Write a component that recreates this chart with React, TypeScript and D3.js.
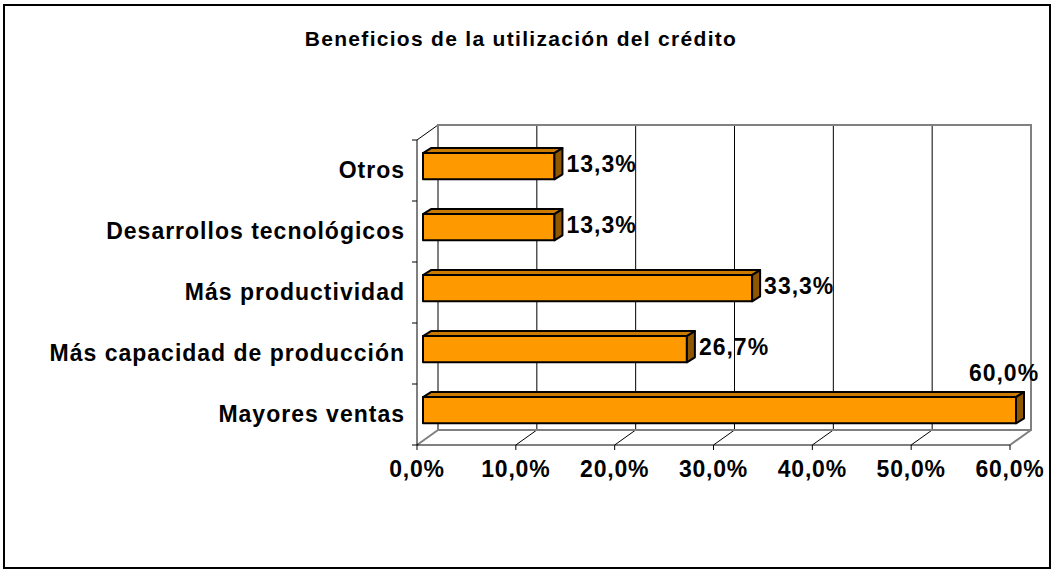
import * as d3 from "d3";

// data, top to bottom as drawn
const categories = ["Otros", "Desarrollos tecnológicos", "Más productividad", "Más capacidad de producción", "Mayores ventas"];
const values = [0.133, 0.133, 0.333, 0.267, 0.6];
const xTicks = [0, 0.1, 0.2, 0.3, 0.4, 0.5, 0.6];
const title = "Beneficios de la utilización del crédito";

const W = 1052;
const H = 570;
// 3d depth offset of the back wall
const depthX = 21;
const depthY = -15;
// bar position / thickness inside the depth
const barX = 6;
const barY = -4.3;
const barDX = 8;
const barDY = -5;

const fmt = (v: number) => (v * 100).toFixed(1).replace(".", ",") + "%";
const font = "'Liberation Sans', Arial, sans-serif";

function App() {
    const x = d3.scaleLinear().domain([0, 0.6]).range([417, 1010]);
    const y = d3.scaleBand<string>()
        .domain(categories)
        .range([140, 445])
        .paddingInner(0.57)
        .paddingOuter(0.285);

    const x0 = x(0);
    const yTop = y.range()[0];
    const yBot = y.range()[1];
    const step = y.step();
    const bandEdges = d3.range(categories.length + 1).map(i => yTop + i * step);

    return (
        <svg width={W} height={H} style={{ position: "absolute", left: 0, top: 0, background: "white" }} fontFamily={font}>
            <rect x={4} y={5} width={1046} height={563} fill="white" stroke="black" strokeWidth={2} />

            <text x={521} y={46} textAnchor="middle" fontSize={21} fontWeight="bold" letterSpacing={1.3}>
                {title}
            </text>

            {/* back wall gridlines */}
            <g stroke="black" strokeWidth={1}>
                {xTicks.slice(1, -1).map(t => (
                    <line key={t} x1={x(t) + depthX} x2={x(t) + depthX} y1={yTop + depthY} y2={yBot + depthY} />
                ))}
                {/* floor diagonals */}
                {xTicks.slice(1, -1).map(t => (
                    <line key={"f" + t} x1={x(t)} x2={x(t) + depthX} y1={yBot} y2={yBot + depthY} />
                ))}
                <line x1={x0} y1={yTop} x2={x0 + depthX} y2={yTop + depthY} />
            </g>

            {/* back wall + floor frame */}
            <g stroke="#808080" strokeWidth={2} fill="none">
                <rect x={x0 + depthX} y={yTop + depthY} width={x(0.6) - x0} height={yBot - yTop} />
                <line x1={x0} y1={yBot} x2={x0 + depthX} y2={yBot + depthY} />
                <line x1={x(0.6)} y1={yBot} x2={x(0.6) + depthX} y2={yBot + depthY} />
            </g>

            {/* axes */}
            <g stroke="black" strokeWidth={1}>
                <line x1={x0} x2={x0} y1={yTop} y2={yBot} />
                <line x1={x0} x2={x(0.6)} y1={yBot} y2={yBot} />
                {bandEdges.map((e, i) => (
                    <line key={"yt" + i} x1={x0 - 5} x2={x0} y1={e} y2={e} />
                ))}
                {xTicks.map(t => (
                    <line key={"xt" + t} x1={x(t)} x2={x(t)} y1={yBot} y2={yBot + 5} />
                ))}
            </g>

            {xTicks.map(t => (
                <text key={"xl" + t} x={x(t)} y={477} textAnchor="middle" fontSize={23} fontWeight="bold" letterSpacing={0.8}>
                    {fmt(t)}
                </text>
            ))}

            {categories.map(c => (
                <text key={c} x={405} y={(y(c) ?? 0) - step * 0.285 + step / 2 + 7} textAnchor="end" fontSize={23} fontWeight="bold" letterSpacing={1}>
                    {c}
                </text>
            ))}

            {/* bars */}
            {categories.map((c, i) => {
                const v = values[i];
                const xa = x0 + barX;
                const xb = x(v) + barX;
                const ya = (y(c) ?? 0) + barY;
                const yb = ya + y.bandwidth();
                const mid = (ya + yb) / 2;
                const top = `${xa},${ya} ${xa + barDX},${ya + barDY} ${xb + barDX},${ya + barDY} ${xb},${ya}`;
                const side = `${xb},${ya} ${xb + barDX},${ya + barDY} ${xb + barDX},${yb + barDY} ${xb},${yb}`;
                const above = v > 0.5;
                return (
                    <g key={c}>
                        <g stroke="black" strokeWidth={2} strokeLinejoin="round">
                            <rect x={xa} y={ya} width={xb - xa} height={yb - ya} fill="#FF9900" />
                            <polygon points={top} fill="#CC7A00" />
                            <polygon points={side} fill="#8F5800" />
                        </g>
                        {above ? (
                            <text x={xb - 12} y={ya - 16} textAnchor="middle" fontSize={23} fontWeight="bold" letterSpacing={1}>
                                {fmt(v)}
                            </text>
                        ) : (
                            <text x={xb + barDX + 4} y={mid + 6} fontSize={23} fontWeight="bold" letterSpacing={1}>
                                {fmt(v)}
                            </text>
                        )}
                    </g>
                );
            })}
        </svg>
    );
}

export default App;
